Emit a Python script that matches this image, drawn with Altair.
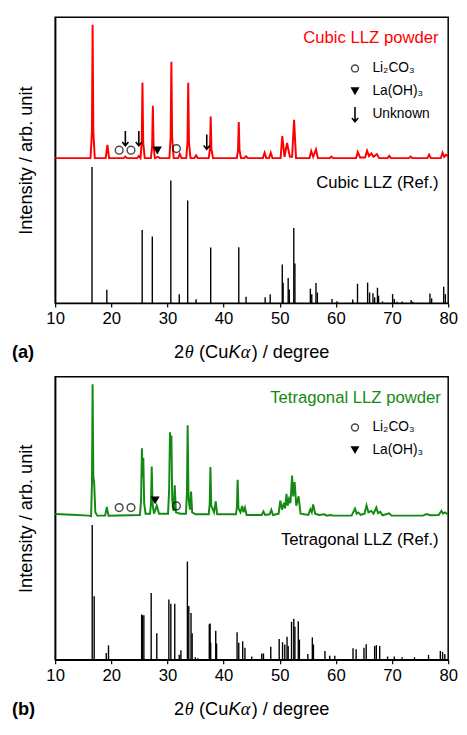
import altair as alt
import pandas as pd

FONT = "Liberation Sans"
SERIF = "Liberation Serif"

# ---------------- Panel (a): cubic LLZ ----------------
cubic_exp_x = [10, 16.3, 16.55, 16.67, 16.8, 17.05, 19.0, 19.3, 19.6, 22.2, 22.5, 22.8, 24.6, 24.9, 25.2,
               25.42, 25.55, 25.68, 25.95, 27.05, 27.27, 27.4, 27.53, 27.75, 28.3, 28.6, 30.35, 30.57, 30.7,
               30.83, 31.1, 31.9, 32.2, 32.5, 33.35, 33.57, 33.7, 33.83, 34.1, 34.8, 35.1, 35.4, 37.35, 37.57,
               37.7, 37.83, 38.1, 42.35, 42.57, 42.7, 42.83, 43.1, 43.7, 44.0, 44.3, 47.0, 47.3, 47.6, 48.1,
               48.4, 48.7, 50.15, 50.45, 50.85, 51.3, 51.8, 52.2, 52.55, 52.9, 55.3, 55.6, 55.95, 56.45, 56.8,
               58.9, 59.2, 59.5, 63.6, 63.9, 64.3, 65.2, 65.55, 65.9, 66.3, 66.7, 67.3, 67.7, 69.2, 69.5, 69.8,
               73.0, 73.3, 73.6, 76.3, 76.6, 76.9, 78.7, 79.0, 79.3, 79.6, 80]
cubic_exp_y = [0, 0, 20, 100, 20, 0, 0, 10, 0, 0, 1.2, 0, 0, 1.5, 0,
               12, 56.4, 12, 0, 0, 9, 39.3, 9, 0, 1, 0, 0, 16, 72.3,
               16, 0, 0, 3, 0, 0, 12, 56.4, 12, 0, 0, 2, 0, 0, 7,
               31.1, 7, 0, 0, 6, 27, 6, 0, 0, 1.4, 0, 0, 4, 0, 0,
               4, 0, 0, 16.6, 1, 11.3, 1, 1, 28.7, 0, 0, 5.3, 1, 6.5, 0,
               0, 1.2, 0, 0, 4.6, 0.5, 0.5, 5.6, 1.5, 3.6, 1, 2.9, 0, 0, 1.7, 0,
               0, 1.2, 0, 0, 2.5, 0, 0, 4.1, 1, 2.5, 1.5]

cubic_ref_x = [16.56, 19.2, 25.5, 27.3, 30.6, 32.1, 33.6, 35.1, 37.7, 42.7, 44.0, 47.4, 48.3, 50.45, 50.6,
               51.5, 51.7, 52.5, 52.7, 55.45, 55.7, 56.45, 56.7, 59.3, 60.2, 63.0, 63.85, 65.65, 66.0, 66.6,
               66.9, 67.4, 67.6, 68.3, 70.1, 70.4, 70.9, 71.8, 73.4, 73.7, 76.75, 77.05, 79.2, 79.5]
cubic_ref_h = [100, 9.9, 53.7, 48.9, 90.1, 6.6, 75.4, 2.8, 40.9, 41.1, 4.7, 4.3, 6.6, 28.4, 14.9,
               18.4, 10.1, 55.1, 29.1, 10.6, 6.6, 14.7, 7.8, 3.0, 1.4, 2.6, 14.2, 15.1, 7.8, 7.3,
               4.3, 11.3, 5.5, 1.2, 6.6, 3.0, 1.0, 1.2, 2.3, 1.0, 7.1, 3.5, 12.1, 6.6]

cubic_li2co3_x = [21.4, 23.5, 31.6]
cubic_li2co3_y = [112.3, 112.3, 113.5]
cubic_laoh3_x = [28.2]
cubic_laoh3_y = [112.1]
cubic_unknown_x = [22.5, 24.9, 37.0]
cubic_unknown_y = [121.0, 121.0, 118.5]

# ---------------- Panel (b): tetragonal LLZ ----------------
tetra_exp_x = [10, 13, 16.0, 16.4, 16.55, 16.67, 16.8, 16.95, 17.15, 17.5, 18.9, 19.2, 19.5,
               25.1, 25.3, 25.45, 25.57, 25.7, 25.85, 26.1, 26.9, 27.07, 27.2, 27.35, 27.6, 28.1, 28.5,
               30.1, 30.3, 30.45, 30.57, 30.7, 30.85, 31.1, 31.3, 31.5, 32.3, 33.3, 33.47, 33.6, 33.75,
               34.0, 34.2, 34.4, 35.0, 37.35, 37.52, 37.65, 37.8, 38.3, 38.6, 38.85, 42.2, 42.37, 42.5,
               42.65, 43.0, 43.3, 43.55, 43.8, 44.1, 46.8, 47.1, 47.4, 48.2, 48.5, 48.8, 49.8, 50.1, 50.4,
               50.75, 50.95, 51.2, 51.4, 51.65, 51.9, 52.2, 52.4, 52.65, 52.95, 53.35, 53.7, 55.1, 55.45,
               55.7, 55.95, 56.3, 57.0, 57.95, 58.4, 59.1, 59.5, 62.8, 63.4, 63.7, 64.0, 64.4, 65.1, 65.45,
               65.8, 66.3, 66.7, 67.2, 67.5, 67.9, 68.3, 69.5, 69.9, 75.5, 76.2, 76.8, 78.3, 78.8, 79.1,
               79.4, 80]
tetra_exp_y = [1.7, 1.2, 0.5, 0, 25, 100, 30, 24.8, 3, 0.5, 0.5, 7, 0.5,
               1, 12, 51.5, 30, 44.4, 10, 2, 2, 10, 37.7, 9, 2, 8, 2,
               2, 20, 63.6, 45, 61.2, 12, 4, 23.5, 3, 2, 2, 18, 69, 14,
               5, 18.7, 3, 1.5, 1.5, 9, 37.4, 8, 3, 11.4, 1.5, 1.5, 7, 27.7,
               6, 3, 7.8, 3, 6.6, 1, 1, 3.6, 1, 1.5, 4.9, 1, 2, 11.9, 5,
               10.2, 6, 17, 8, 13.1, 10, 30.8, 15, 26, 8, 15.1, 2, 1, 5.3,
               3, 9, 2, 1, 1.5, 0.5, 1, 0.5, 0.5, 5.8, 2, 2.9, 1, 2, 8.2,
               3, 4.1, 2, 6.6, 2.5, 3.4, 0.8, 2.2, 0.5, 0.5, 1.7, 0.8, 1, 4.2, 2,
               2.9, 1.5]

tetra_ref_x = [16.6, 16.95, 19.1, 19.5, 25.4, 25.55, 25.8, 27.1, 28.1, 30.25, 30.6, 31.3, 32.1, 32.4,
               33.55, 33.8, 34.2, 34.4, 34.95, 35.4, 37.45, 37.6, 37.7, 38.6, 38.75, 42.4, 42.7, 43.4,
               43.8, 45.0, 46.8, 47.1, 48.4, 49.9, 50.5, 50.9, 51.3, 51.5, 52.1, 52.5, 52.7, 53.3, 53.5,
               55.0, 55.8, 56.0, 58.05, 58.9, 59.8, 63.05, 63.6, 65.0, 65.4, 66.9, 67.2, 67.8, 69.2, 70.4,
               71.8, 74.0, 76.5, 78.6, 79.0, 79.4]
tetra_ref_h = [100, 47.1, 5.0, 10.7, 33.6, 33.1, 33.0, 49.5, 19.7, 44.7, 41.6, 41.6, 3.8, 7.1,
               72.9, 40.0, 34.7, 19.7, 1.9, 1.1, 26.4, 26.9, 12.6, 21.6, 12.1, 20.4, 12.6, 13.8,
               9.0, 2.4, 4.7, 4.7, 9.7, 15.4, 13.1, 11.4, 17.1, 10.2, 28.1, 30.4, 24.5, 28.6, 15.0,
               4.3, 16.6, 11.4, 6.6, 3.1, 3.1, 8.6, 7.9, 9.0, 11.6, 10.2, 10.9, 10.2, 2.4, 2.4,
               1.9, 1.9, 3.6, 6.6, 5.9, 4.3]

tetra_li2co3_x = [21.4, 23.5, 31.6]
tetra_li2co3_y = [113.0, 113.0, 114.2]
tetra_laoh3_x = [27.8]
tetra_laoh3_y = [118.3]

# ---------------- legend / labels ----------------
legend_labels_a = ["Li₂CO₃", "La(OH)₃", "Unknown"]
legend_labels_b = ["Li₂CO₃", "La(OH)₃"]
legend_rows_y = [172.4, 155.6, 138.6]
legend_sym_x = 63.4
legend_txt_x = 66.5

# x-axis title pieces: text, font, style, left offset (px from plot left)
xtitle_text = ["2", "θ", "(Cu", "K", "α", ") / degree"]
xtitle_font = [FONT, SERIF, FONT, FONT, SERIF, FONT]
xtitle_style = ["normal", "italic", "normal", "italic", "italic", "normal"]
xtitle_dx = [121.0, 131.8, 146.4, 176.3, 189.0, 200.0]

EXP_OFFSET = 106.5
EXP_SCALE = 0.98
Y_MAX = 210

W = 400
H_A, H_B = 291, 288
TITLE_FS = 18.5

ARROW = "M0,-1L0,1M-0.42,0.5L0,1L0.42,0.5"

xscale = alt.Scale(domain=[10, 80], nice=False, zero=False)
yscale = alt.Scale(domain=[0, Y_MAX], nice=False, zero=True)

xaxis = alt.Axis(values=list(range(10, 81, 5)),
                 labelExpr="datum.value % 10 == 0 ? datum.label : ''",
                 title=None,
                 labelFont=FONT, labelFontSize=17, labelColor="black",
                 tickSize=4, tickColor="black", tickWidth=1.2, domainColor="black", domainWidth=1.5,
                 grid=False, labelPadding=4, labelFlush=False)
yaxis = alt.Axis(labels=False, ticks=False, grid=False, domainColor="black", domainWidth=1.5,
                 title="Intensity / arb. unit", titleFont=FONT, titleFontSize=TITLE_FS,
                 titleFontWeight="normal", titleColor="black", titlePadding=20)


def panel(exp_x, exp_y, color, ref_x, ref_h, li_x, li_y, la_x, la_y, unk_x, unk_y,
          sample_title, title_x, ref_title, legend_labels, tag, height):
    exp_df = pd.DataFrame({"t": exp_x,
                           "I": [EXP_OFFSET + EXP_SCALE * v for v in exp_y],
                           "i": list(range(len(exp_x)))})
    ref_df = pd.DataFrame({"t": ref_x, "h": ref_h})

    line = alt.Chart(exp_df).mark_line(color=color, strokeWidth=2, clip=True).encode(
        x=alt.X("t:Q", scale=xscale, axis=xaxis),
        y=alt.Y("I:Q", scale=yscale, axis=yaxis),
        order="i:Q")
    sticks = alt.Chart(ref_df).mark_rule(color="black", strokeWidth=1.4).encode(
        x=alt.X("t:Q", scale=xscale), y=alt.Y("h:Q", scale=yscale), y2=alt.datum(0))

    layers = [sticks, line]

    li_df = pd.DataFrame({"t": li_x, "y": li_y})
    layers.append(alt.Chart(li_df).mark_point(shape="circle", filled=False, color="black",
                                              size=62, strokeWidth=1.5).encode(
        x=alt.X("t:Q", scale=xscale), y=alt.Y("y:Q", scale=yscale)))
    la_df = pd.DataFrame({"t": la_x, "y": la_y})
    layers.append(alt.Chart(la_df).mark_point(shape="triangle-down", filled=True, color="black",
                                              size=85, opacity=1).encode(
        x=alt.X("t:Q", scale=xscale), y=alt.Y("y:Q", scale=yscale)))
    if unk_x:
        unk_df = pd.DataFrame({"t": unk_x, "y": unk_y})
        layers.append(alt.Chart(unk_df).mark_point(shape=ARROW, filled=False, color="black",
                                                   size=225, strokeWidth=1.6, opacity=1).encode(
            x=alt.X("t:Q", scale=xscale), y=alt.Y("y:Q", scale=yscale)))

    # legend
    n = len(legend_labels)
    leg_df = pd.DataFrame({"label": legend_labels, "y": legend_rows_y[:n],
                           "sx": [legend_sym_x] * n, "tx": [legend_txt_x] * n,
                           "kind": ["circle", "tri", "arrow"][:n]})
    layers.append(alt.Chart(leg_df).mark_text(font=FONT, fontSize=14, align="left",
                                              baseline="middle", color="black").encode(
        x=alt.X("tx:Q", scale=xscale), y=alt.Y("y:Q", scale=yscale), text="label:N"))
    layers.append(alt.Chart(leg_df).transform_filter("datum.kind == 'circle'").mark_point(
        shape="circle", filled=False, color="black", size=50, strokeWidth=1.5).encode(
        x=alt.X("sx:Q", scale=xscale), y=alt.Y("y:Q", scale=yscale)))
    layers.append(alt.Chart(leg_df).transform_filter("datum.kind == 'tri'").mark_point(
        shape="triangle-down", filled=True, color="black", size=85, opacity=1).encode(
        x=alt.X("sx:Q", scale=xscale), y=alt.Y("y:Q", scale=yscale)))
    if n > 2:
        layers.append(alt.Chart(leg_df).transform_filter("datum.kind == 'arrow'").mark_point(
            shape=ARROW, filled=False, color="black", size=225, strokeWidth=1.6, opacity=1).encode(
            x=alt.X("sx:Q", scale=xscale), y=alt.Y("y:Q", scale=yscale)))

    title_df = pd.DataFrame({"t": [title_x, 78.3], "y": [194.5, 88.5],
                             "label": [sample_title, ref_title], "c": [color, "black"]})
    layers.append(alt.Chart(title_df).mark_text(font=FONT, fontSize=17, align="right",
                                                baseline="middle").encode(
        x=alt.X("t:Q", scale=xscale), y=alt.Y("y:Q", scale=yscale), text="label:N",
        color=alt.Color("c:N", scale=None)))

    # x-axis title assembled from pieces (italic θ, K, α)
    one = pd.DataFrame({"k": [0]})
    for txt, fnt, sty, dx in zip(xtitle_text, xtitle_font, xtitle_style, xtitle_dx):
        layers.append(alt.Chart(one).mark_text(text=txt, font=fnt, fontStyle=sty,
                                               fontSize=TITLE_FS, align="left",
                                               baseline="middle", color="black").encode(
            x=alt.value(dx), y=alt.value(height + 50)))

    tag_df = pd.DataFrame({"label": [tag]})
    layers.append(alt.Chart(tag_df).mark_text(font=FONT, fontSize=TITLE_FS, fontWeight="bold",
                                              align="left", baseline="middle",
                                              color="black").encode(
        x=alt.value(-44), y=alt.value(height + 50), text="label:N"))

    return alt.layer(*layers).properties(width=W, height=height)


pa = panel(cubic_exp_x, cubic_exp_y, "#ff0000", cubic_ref_x, cubic_ref_h,
           cubic_li2co3_x, cubic_li2co3_y, cubic_laoh3_x, cubic_laoh3_y,
           cubic_unknown_x, cubic_unknown_y,
           "Cubic LLZ powder", 78.3, "Cubic LLZ (Ref.)", legend_labels_a, "(a)", H_A)
pb = panel(tetra_exp_x, tetra_exp_y, "#138a13", tetra_ref_x, tetra_ref_h,
           tetra_li2co3_x, tetra_li2co3_y, tetra_laoh3_x, tetra_laoh3_y,
           [], [],
           "Tetragonal LLZ powder", 78.7, "Tetragonal LLZ (Ref.)", legend_labels_b, "(b)", H_B)

chart = alt.vconcat(pa, pb, spacing=13).properties(
    padding={"top": 2, "left": 3, "right": 0, "bottom": 0},
    background="white",
).configure_view(stroke="black", strokeWidth=1.5).configure_concat(spacing=13)

chart.save("out.html", embed_options={"renderer": "svg", "actions": False})
